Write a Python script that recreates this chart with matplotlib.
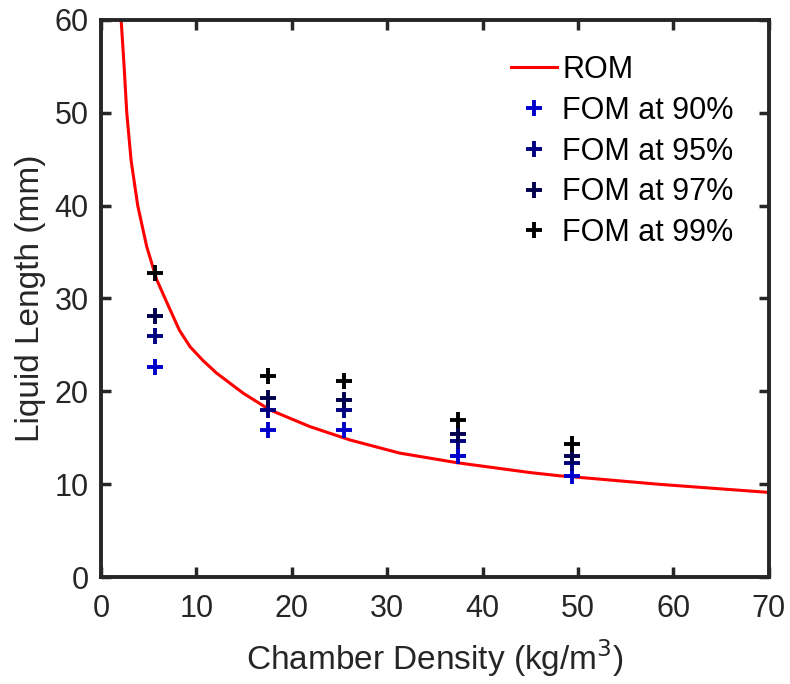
import matplotlib
matplotlib.use('Agg')
import matplotlib.pyplot as plt
import numpy as np

plt.rcParams['font.family'] = ['Liberation Sans', 'DejaVu Sans']

# ROM curve
rom_x = [2.1, 2.41, 2.69, 3.14, 3.84, 4.78, 5.66, 5.84, 6.88, 8.2, 9.33, 10.7, 12.1,
         14.9, 17.7, 21.9, 26.1, 31.3, 37.4, 45.0, 48.1, 49.4, 58.6, 69.8, 70.0]
rom_y = [60.0, 55.0, 50.0, 44.9, 40.0, 35.6, 32.6, 32.0, 29.6, 26.6, 24.8, 23.3, 21.97,
         19.8, 18.0, 16.2, 14.76, 13.35, 12.3, 11.25, 10.9, 10.8, 9.98, 9.13, 9.1]

# FOM results at the five chamber densities
density = [5.66, 17.5, 25.5, 37.4, 49.4]
fom_90 = [22.6, 15.8, 15.8, 13.0, 10.85]
fom_95 = [26.0, 18.0, 18.0, 14.65, 12.25]
fom_97 = [28.1, 19.3, 19.1, 15.45, 13.0]
fom_99 = [32.8, 21.6, 21.1, 16.9, 14.3]

labels = ['FOM at 90%', 'FOM at 95%', 'FOM at 97%', 'FOM at 99%']
colors = [(0, 0, 0.8), (0, 0, 0.5), (0, 0, 0.3), (0, 0, 0)]

fig = plt.figure(figsize=(7.9, 6.84), dpi=100)
ax = fig.add_axes([0.128, 0.1564, 0.845, 0.8144])

ax.plot(rom_x, rom_y, color='red', lw=2.2, label='ROM')
for fom, lab, col in zip([fom_90, fom_95, fom_97, fom_99], labels, colors):
    ax.plot(density, fom, ls='none', marker='+', ms=11, mew=2.8,
            color=col, label=lab)

ax.set_xlim(0, 70)
ax.set_ylim(0, 60)
ax.set_xticks(np.arange(0, 71, 10))
ax.set_yticks(np.arange(0, 61, 10))
ax.tick_params(direction='in', length=7, width=2.5, labelsize=22,
               colors='#262626', top=True, right=True, pad=9)
ax.tick_params(axis='x', pad=12)
for sp in ax.spines.values():
    sp.set_linewidth(2.8)
    sp.set_color('#262626')

ax.set_xlabel('Chamber Density (kg/m$^3$)', fontsize=24, color='#262626', labelpad=10)
ax.set_ylabel('Liquid Length (mm)', fontsize=24, color='#262626', labelpad=6)

leg = ax.legend(loc='upper right', frameon=False, fontsize=22,
                handlelength=1.5, handletextpad=0.16, labelspacing=0.35,
                borderpad=0.4, borderaxespad=0.75)

fig.savefig('out.png', dpi=100)
